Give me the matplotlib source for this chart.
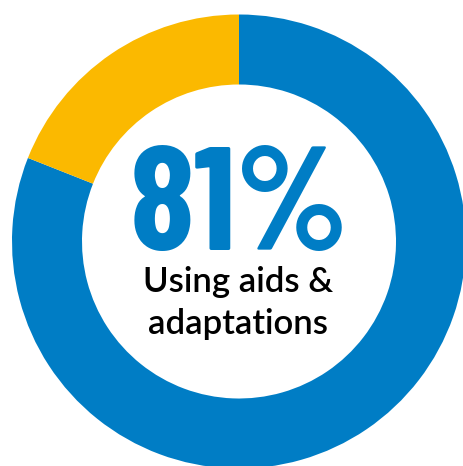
import matplotlib.pyplot as plt

shares = [81, 19]
share_labels = ["Using aids & adaptations", "Other"]
colors = ["#007DC5", "#FBB900"]
headline = "81%"
caption_lines = ["Using aids &", "adaptations"]

big_font = ["Barlow Condensed", "Roboto Condensed", "Archivo Narrow", "DejaVu Sans"]
small_font = ["Lato", "DejaVu Sans"]

fig = plt.figure(figsize=(4.63, 4.66), dpi=100)
ax = fig.add_axes([0, 0, 1, 1])
ax.pie(
    shares,
    colors=colors,
    startangle=90,
    counterclock=False,
    center=(239, 224.5),
    radius=227,
    wedgeprops=dict(width=70, linewidth=0),
)
ax.set_xlim(0, 463)
ax.set_ylim(0, 466)
ax.set_aspect("equal")
ax.axis("off")

ax.text(239, 216, headline, ha="center", va="baseline", color=colors[0],
        fontsize=106, fontweight="bold", family=big_font)
ax.text(238, 174, caption_lines[0], ha="center", va="baseline", color="black",
        fontsize=25, fontweight="semibold", family=small_font)
ax.text(238, 132, caption_lines[1], ha="center", va="baseline", color="black",
        fontsize=25, fontweight="semibold", family=small_font)

fig.savefig("out.png", dpi=100)
